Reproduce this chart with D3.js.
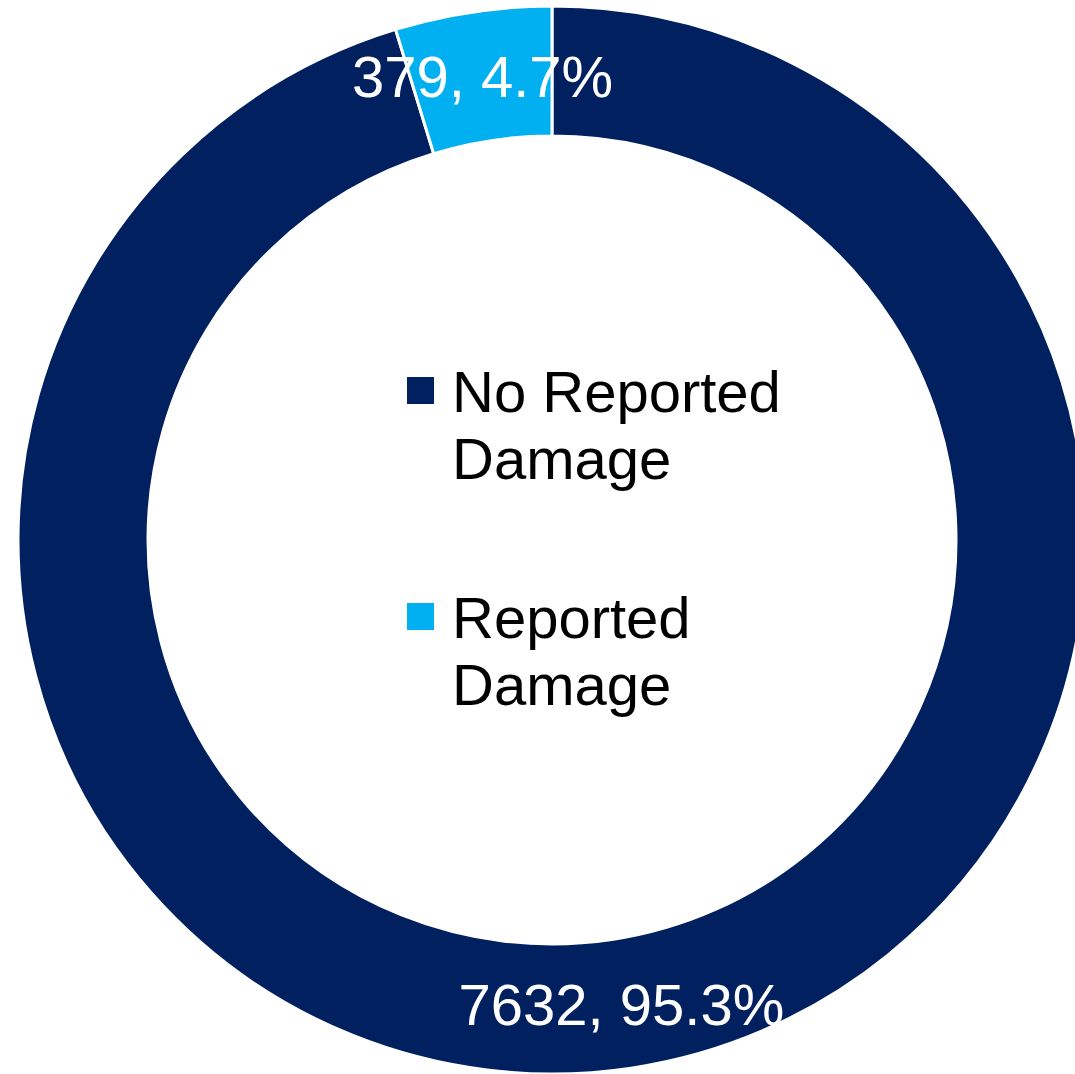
<!DOCTYPE html>
<html>
<head>
<meta charset="utf-8">
<script src="https://cdn.jsdelivr.net/npm/d3@7/dist/d3.min.js"></script>
<style>
  html, body { margin: 0; padding: 0; background: #fff; }
  svg { display: block; }
</style>
</head>
<body>
<svg id="chart" width="1075" height="1074"></svg>
<script>
const categories = ["No Reported Damage", "Reported Damage"];
const legendLines = [["No Reported", "Damage"], ["Reported", "Damage"]];
const counts = [7632, 379];
const percentLabels = ["95.3%", "4.7%"];
const colors = ["#002060", "#00B0F0"];

const W = 1075, H = 1074;
const cx = 552, cy = 540;
const outerR = 534, innerR = 404;
const fontFamily = "'Liberation Sans', Arial, Helvetica, sans-serif";

const svg = d3.select("#chart");
const g = svg.append("g").attr("transform", `translate(${cx},${cy})`);

const data = categories.map((c, i) => ({ name: c, value: counts[i], pct: percentLabels[i], color: colors[i] }));
const pie = d3.pie().value(d => d.value).sort(null).startAngle(0).endAngle(2 * Math.PI);
const arc = d3.arc().innerRadius(innerR).outerRadius(outerR);
const arcs = pie(data);

g.selectAll("path.slice")
  .data(arcs)
  .join("path")
  .attr("class", "slice")
  .attr("d", arc)
  .attr("fill", d => d.data.color)
  .attr("stroke", "#ffffff")
  .attr("stroke-width", 3)
  .attr("stroke-linejoin", "miter");

g.selectAll("text.lbl")
  .data(arcs)
  .join("text")
  .attr("class", "lbl")
  .attr("x", d => arc.centroid(d)[0])
  .attr("y", d => arc.centroid(d)[1])
  .attr("dy", "0.36em")
  .attr("text-anchor", "middle")
  .attr("font-family", fontFamily)
  .attr("font-size", 58)
  .attr("fill", "#ffffff")
  .text(d => `${d.data.value}, ${d.data.pct}`);

// Legend
const legendX = 407, legendTop = [377, 603], sq = 27, lineH = 67, fs = 58;
const leg = svg.append("g");
data.forEach((d, i) => {
  leg.append("rect")
    .attr("x", legendX)
    .attr("y", legendTop[i])
    .attr("width", sq)
    .attr("height", sq)
    .attr("fill", d.color);
  const t = leg.append("text")
    .attr("font-family", fontFamily)
    .attr("font-size", fs)
    .attr("fill", "#000000");
  legendLines[i].forEach((ln, j) => {
    t.append("tspan")
      .attr("x", 452)
      .attr("y", legendTop[i] + sq / 2 + 21 + j * lineH)
      .text(ln);
  });
});
</script>
</body>
</html>
